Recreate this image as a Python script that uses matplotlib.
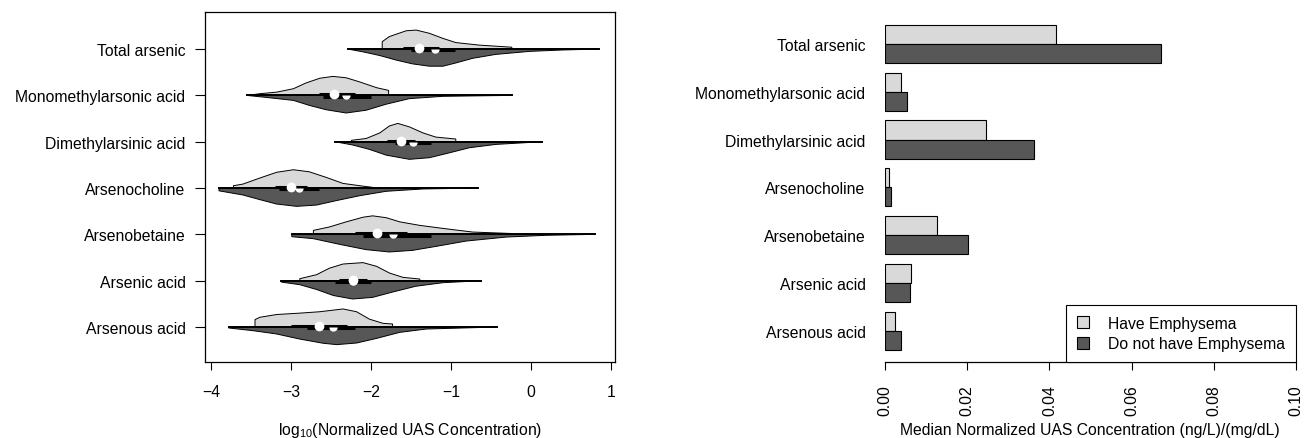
import matplotlib.pyplot as plt

plt.rcParams['font.family'] = ['Liberation Sans', 'DejaVu Sans']
plt.rcParams['mathtext.fontset'] = 'custom'
plt.rcParams['mathtext.rm'] = 'Liberation Sans'
plt.rcParams['font.size'] = 11.3

compounds = ['Total arsenic', 'Monomethylarsonic acid', 'Dimethylarsinic acid',
             'Arsenocholine', 'Arsenobetaine', 'Arsenic acid', 'Arsenous acid']
groups = ['Have Emphysema', 'Do not have Emphysema']

# bean outlines: log10 value and half height (in bean units)
# hi_* = upper half (have emphysema), lo_* = lower half (do not have)
hi_x = [[-1.86, -1.77, -1.56, -1.435, -1.27, -1.10, -0.94, -0.65, -0.24],
        [-3.54, -3.39, -3.18, -2.97, -2.81, -2.64, -2.475, -2.31, -2.14, -1.93, -1.78],
        [-2.245, -2.06, -1.89, -1.77, -1.665, -1.52, -1.35, -1.19, -0.94],
        [-3.72, -3.60, -3.39, -3.18, -2.97, -2.77, -2.56, -2.35, -2.14, -1.98],
        [-2.72, -2.52, -2.31, -2.10, -1.98, -1.81, -1.64, -1.39, -1.06, -0.73, -0.26],
        [-2.89, -2.68, -2.52, -2.35, -2.10, -1.93, -1.77, -1.60, -1.39],
        [-3.45, -3.39, -3.18, -2.89, -2.64, -2.35, -2.18, -2.02, -1.85, -1.73]]
hi_h = [[0.16, 0.27, 0.395, 0.41, 0.34, 0.23, 0.14, 0.086, 0.04],
        [0.0, 0.036, 0.07, 0.144, 0.27, 0.37, 0.41, 0.38, 0.29, 0.166, 0.108],
        [0.03, 0.07, 0.19, 0.34, 0.395, 0.32, 0.19, 0.10, 0.058],
        [0.05, 0.086, 0.216, 0.34, 0.395, 0.35, 0.23, 0.10, 0.05, 0.015],
        [0.086, 0.16, 0.27, 0.37, 0.40, 0.36, 0.27, 0.194, 0.12, 0.05, 0.02],
        [0.043, 0.13, 0.27, 0.36, 0.39, 0.31, 0.166, 0.072, 0.036],
        [0.16, 0.21, 0.27, 0.30, 0.33, 0.39, 0.33, 0.17, 0.08, 0.065]]
lo_x = [[-2.29, -2.10, -1.89, -1.68, -1.48, -1.27, -1.10, -0.94, -0.73, -0.44, -0.02, 0.39, 0.85],
        [-3.555, -3.35, -2.97, -2.77, -2.56, -2.31, -2.06, -1.81, -1.52, -1.10, -0.24],
        [-2.45, -2.23, -2.02, -1.81, -1.52, -1.27, -1.02, -0.77, -0.44, 0.14],
        [-3.90, -3.60, -3.39, -3.18, -2.93, -2.68, -2.43, -2.14, -1.81, -1.35, -0.66],
        [-2.99, -2.72, -2.39, -2.06, -1.77, -1.48, -1.19, -0.81, -0.31, 0.19, 0.80],
        [-3.12, -2.89, -2.68, -2.47, -2.23, -1.98, -1.73, -1.44, -1.10, -0.62],
        [-3.78, -3.47, -3.18, -2.89, -2.60, -2.43, -2.18, -1.93, -1.64, -1.31, -0.43]]
lo_h = [[0.0, 0.06, 0.14, 0.24, 0.32, 0.37, 0.37, 0.30, 0.20, 0.115, 0.05, 0.02, 0.0],
        [0.0, 0.036, 0.108, 0.216, 0.31, 0.38, 0.32, 0.19, 0.07, 0.02, 0.0],
        [0.0, 0.07, 0.165, 0.29, 0.38, 0.345, 0.24, 0.13, 0.058, 0.0],
        [0.06, 0.15, 0.25, 0.345, 0.395, 0.367, 0.27, 0.165, 0.07, 0.02, 0.0],
        [0.05, 0.093, 0.216, 0.33, 0.38, 0.345, 0.26, 0.144, 0.058, 0.02, 0.0],
        [0.03, 0.086, 0.19, 0.32, 0.395, 0.36, 0.245, 0.12, 0.043, 0.0],
        [0.02, 0.08, 0.15, 0.26, 0.35, 0.38, 0.345, 0.245, 0.115, 0.043, 0.0]]
hi_med = [-1.40, -2.46, -1.63, -3.00, -1.93, -2.23, -2.65]
lo_med = [-1.20, -2.31, -1.47, -2.90, -1.72, -2.22, -2.47]
hi_iqr = [[-1.60, -1.15], [-2.65, -2.20], [-1.80, -1.45], [-3.20, -2.80],
          [-2.20, -1.55], [-2.40, -2.05], [-3.00, -2.30]]
lo_iqr = [[-1.50, -0.95], [-2.60, -2.00], [-1.70, -1.25], [-3.15, -2.65],
          [-2.10, -1.25], [-2.45, -2.00], [-2.80, -2.20]]

# median normalized concentration (ng/L)/(mg/dL)
med_have = [0.0417, 0.0038, 0.0245, 0.00105, 0.0126, 0.0063, 0.0024]
med_not = [0.0672, 0.0053, 0.0362, 0.0015, 0.0202, 0.0060, 0.0038]

x_ticks = [-4, -3, -2, -1, 0, 1]
x_tick_labels = ['\u22124', '\u22123', '\u22122', '\u22121', '0', '1']
bar_ticks = [0.0, 0.02, 0.04, 0.06, 0.08, 0.10]

light = '#d9d9d9'
dark = '#575757'
W, H = 1313, 439

fig = plt.figure(figsize=(W / 100, H / 100), dpi=100)

# ---- left: split beans ----
ax1 = fig.add_axes([205 / W, 1 - 363 / H, 410 / W, 350 / H])
n = len(compounds)
for i in range(n):
    y = n - i
    xs, hs = hi_x[i], hi_h[i]
    ax1.fill([xs[0]] + xs + [xs[-1]], [y] + [y + h for h in hs] + [y],
             facecolor=light, edgecolor='black', lw=0.7, zorder=2)
    xs, hs = lo_x[i], lo_h[i]
    ax1.fill([xs[0]] + xs + [xs[-1]], [y] + [y - h for h in hs] + [y],
             facecolor=dark, edgecolor='black', lw=0.7, zorder=2)
    lo_end = min(hi_x[i][0], lo_x[i][0])
    hi_end = max(hi_x[i][-1], lo_x[i][-1])
    ax1.plot([lo_end, hi_end], [y, y], color='black', lw=1.4, zorder=3)
    ax1.plot(hi_iqr[i], [y + 0.025] * 2, color='black', lw=2.2,
             solid_capstyle='butt', zorder=3)
    ax1.plot(lo_iqr[i], [y - 0.025] * 2, color='black', lw=2.2,
             solid_capstyle='butt', zorder=3)
    ax1.plot(lo_med[i], y, marker='o', ms=6, fillstyle='bottom',
             markerfacecolor='white', markerfacecoloralt='none',
             markeredgecolor='none', zorder=4)
    ax1.plot(hi_med[i], y + 0.02, marker='o', ms=7, color='white',
             markeredgecolor='none', zorder=5)

ax1.set_xlim(-4.075, 1.05)
ax1.set_ylim(0.245, 7.8)
ax1.set_yticks(range(n, 0, -1))
ax1.set_yticklabels(compounds)
ax1.set_xticks(x_ticks)
ax1.set_xticklabels(x_tick_labels)
ax1.tick_params(axis='y', length=7, width=0.8, pad=7)
ax1.tick_params(axis='x', length=6, width=0.8, pad=10)
for s in ax1.spines.values():
    s.set_linewidth(0.9)
fig.text(410 / W, 1 - 431 / H,
         r'log$_\mathregular{10}$(Normalized UAS Concentration)',
         ha='center', va='center')

# ---- right: median bars ----
ax2 = fig.add_axes([885 / W, 1 - 363.3 / H, 411 / W, 338.4 / H])
pos = [n - 1 - i for i in range(n)]
ax2.barh([p + 0.2 for p in pos], med_have, height=0.4, color=light,
         edgecolor='black', lw=0.8, label=groups[0])
ax2.barh([p - 0.2 for p in pos], med_not, height=0.4, color=dark,
         edgecolor='black', lw=0.8, label=groups[1])
ax2.set_xlim(0, 0.10)
ax2.set_ylim(-0.66, 6.42)
ax2.set_yticks(pos)
ax2.set_yticklabels(compounds)
ax2.set_xticks(bar_ticks)
ax2.set_xticklabels(['%.2f' % t for t in bar_ticks], rotation=90)
ax2.tick_params(axis='y', length=0, pad=14)
ax2.tick_params(axis='x', length=6, width=0.8, pad=10)
for side in ['top', 'right', 'left']:
    ax2.spines[side].set_visible(False)
ax2.spines['bottom'].set_linewidth(0.9)
leg = ax2.legend(loc='lower right', borderaxespad=0, fancybox=False,
                 edgecolor='black', framealpha=1, handlelength=0.8,
                 handleheight=0.8, handletextpad=1.2, borderpad=0.7,
                 labelspacing=0.35)
leg.get_frame().set_linewidth(0.8)
fig.text(1090 / W, 1 - 431 / H,
         'Median Normalized UAS Concentration (ng/L)/(mg/dL)',
         ha='center', va='center')

fig.savefig('out.png', dpi=100)
